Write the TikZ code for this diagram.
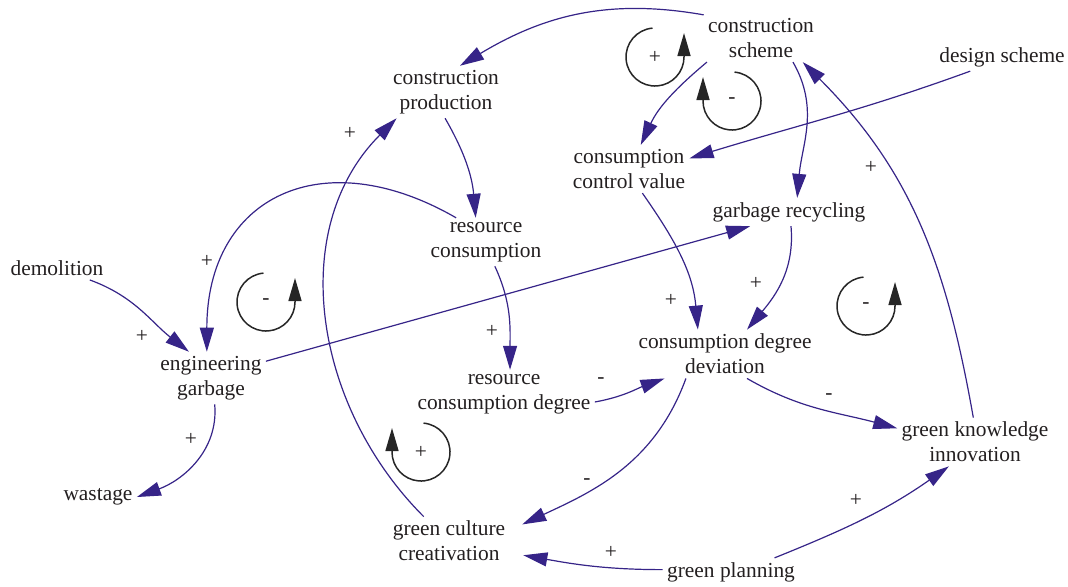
\documentclass[tikz,border=0pt]{standalone}
\usepackage{fontspec}
\setmainfont{Liberation Serif}
\usepackage{tikz}
\usetikzlibrary{arrows.meta}
\definecolor{linkblue}{RGB}{54,36,136}
\definecolor{inkgray}{RGB}{35,31,32}

\begin{document}
\begin{tikzpicture}[x=0.5pt, y=0.5pt,
  var/.style={align=center, inner sep=2pt, text=inkgray, font=\fontsize{10.7}{12.5}\selectfont},
  sgn/.style={inner sep=0pt, text=inkgray, font=\fontsize{10.7}{12.5}\selectfont},
  link/.style={draw=linkblue, line width=0.6pt, -{Triangle[length=12pt,width=7pt]}},
  loopline/.style={draw=black!85, line width=0.75pt, -{Triangle[length=11.5pt,width=6.5pt]}}]
\useasboundingbox (0,0) rectangle (1068,-586);

\node[var] (cs) at (761,-38) {construction\\scheme};
\node[var] (ds) at (1002,-57) {design scheme};
\node[var] (cp) at (446,-92) {construction\\production};
\node[var] (ccv) at (629,-169) {consumption\\control value};
\node[var] (gr) at (789,-212) {garbage recycling};
\node[var] (rc) at (486,-242) {resource\\consumption};
\node[var] (dem) at (57,-268) {demolition};
\node[var] (eg) at (211,-378) {engineering\\garbage};
\node[var] (cdd) at (725,-354) {consumption degree\\deviation};
\node[var] (rcd) at (504,-394) {resource\\consumption degree};
\node[var] (gki) at (975,-442) {green knowledge\\innovation};
\node[var] (was) at (98,-497) {wastage};
\node[var] (gcc) at (449,-541) {green culture\\creativation};
\node[var] (gp) at (731,-572) {green planning};

\draw[link] (cs.158) to[out=170,in=31] (cp.62);
\draw[link] (cs.204) to[out=220,in=65] (ccv.64);
\draw[link] (cs.-37) to[out=-60,in=85] (gr.60);
\draw[link] (ds.204) to[out=200,in=17] (ccv.10);
\draw[link] (gki.94) to[out=100,in=-45] (cs.-30);
\draw[link] (cp.-92) to[out=-60,in=95] (rc.113);
\draw[link] (rc.141) to[out=150,in=90,looseness=1.4] (eg.99);
\draw[link] (dem.-20) to[out=-20,in=142] (eg.130);
\draw[link] (eg.17) -- (gr.-160);
\draw[link] (eg.-82) to[out=-85,in=20] (was.0);
\draw[link] (gcc.136) to[out=135,in=225] (cp.208);
\draw[link] (rc.-70) to[out=-65,in=90] (rcd.76);
\draw[link] (rcd.-5) to[out=10,in=200] (cdd.202);
\draw[link] (ccv.-61) to[out=-55,in=95] (cdd.138);
\draw[link] (gr.-82) to[out=-85,in=50] (cdd.48);
\draw[link] (cdd.-48) to[out=-30,in=165] (gki.170);
\draw[link,shorten >=7pt] (cdd.212) to[out=-110,in=25] (gcc.10);
\draw[link,shorten >=7pt] (gp.178) to[out=180,in=-10] (gcc.-11);
\draw[link] (gp.18) to[out=22,in=215] (gki.223);

% link polarities
\node[sgn] (p1) at (871,-167) {+};
\node[sgn] (p2) at (207,-261) {+};
\node[sgn] (p3) at (142,-336) {+};
\node[sgn] (p4) at (191,-439) {+};
\node[sgn] (p5) at (350,-133) {+};
\node[sgn] (p6) at (492,-331) {+};
\node[sgn] (p7) at (671,-300) {+};
\node[sgn] (p8) at (756,-283) {+};
\node[sgn] (p9) at (611,-552) {+};
\node[sgn] (p10) at (856,-500) {+};
\node[sgn] (m1) at (601,-381) {-};
\node[sgn] (m2) at (829,-397) {-};
\node[sgn] (m3) at (587,-482) {-};

% feedback loops
\coordinate (l1) at (655,-57);
\coordinate (l2) at (732,-101);
\coordinate (l3) at (266,-302);
\coordinate (l4) at (421,-452);
\coordinate (l5) at (866,-306);
\draw[loopline] (l1) ++(95:29) arc[start angle=95,end angle=360,radius=29] -- ++(0,24);
\draw[loopline] (l2) ++(85:29) arc[start angle=85,end angle=-180,radius=29] -- ++(0,24);
\draw[loopline] (l3) ++(95:29) arc[start angle=95,end angle=360,radius=29] -- ++(0,24);
\draw[loopline] (l4) ++(85:29) arc[start angle=85,end angle=-180,radius=29] -- ++(0,24);
\draw[loopline] (l5) ++(95:29) arc[start angle=95,end angle=360,radius=29] -- ++(0,24);
\node[sgn] (s1) at (l1) {+};
\node[sgn] (s2) at (l2) {-};
\node[sgn] (s3) at (l3) {-};
\node[sgn] (s4) at (l4) {+};
\node[sgn] (s5) at (l5) {-};
\end{tikzpicture}
\end{document}
